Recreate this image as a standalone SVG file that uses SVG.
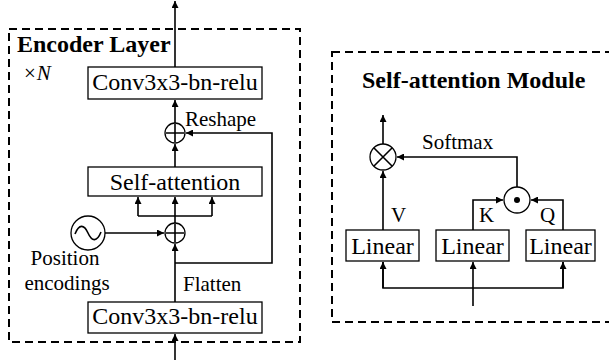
<svg xmlns="http://www.w3.org/2000/svg" width="609" height="360" viewBox="0 0 609 360">
<style>
text{font-family:"Liberation Serif","Times New Roman",serif;fill:#000}
.b{font-weight:bold;font-size:24px}
.box{fill:#fff;stroke:#000;stroke-width:1.3}
.dash{fill:none;stroke:#000;stroke-width:2;stroke-dasharray:8 5}
.ln{fill:none;stroke:#000;stroke-width:1.6}
.op{fill:#fff;stroke:#000;stroke-width:1.3}
.t24{font-size:24px}
.t21{font-size:21px}
</style>
<defs>
<marker id="ah" viewBox="0 0 10 10" refX="10" refY="5" markerWidth="7" markerHeight="7" markerUnits="userSpaceOnUse" orient="auto"><path d="M0,0 L10,5 L0,10 z" fill="#000"/></marker>
</defs>
<rect class="dash" x="9" y="29" width="291" height="313"/>
<rect class="dash" x="332" y="52" width="285" height="270"/>
<text class="b" x="17" y="52">Encoder Layer</text>
<text x="24" y="80" style="font-size:21px">×<tspan dx="1" font-style="italic">N</tspan></text>
<text class="b" x="362" y="88">Self-attention Module</text>
<g id="connectors">
<line class="ln" x1="175" y1="67" x2="175" y2="1" marker-end="url(#ah)"/>
<line class="ln" x1="175" y1="360" x2="175" y2="334" marker-end="url(#ah)"/>
<line class="ln" x1="175" y1="123" x2="175" y2="100" marker-end="url(#ah)"/>
<line class="ln" x1="175" y1="167" x2="175" y2="144" marker-end="url(#ah)"/>
<line class="ln" x1="175" y1="223" x2="175" y2="197" marker-end="url(#ah)"/>
<polyline class="ln" points="138,216 212,216"/>
<line class="ln" x1="138" y1="216" x2="138" y2="197" marker-end="url(#ah)"/>
<line class="ln" x1="212" y1="216" x2="212" y2="197" marker-end="url(#ah)"/>
<line class="ln" x1="175" y1="302" x2="175" y2="244" marker-end="url(#ah)"/>
<polyline class="ln" points="175,263 272,263 272,133 186,133" marker-end="url(#ah)"/>
<line class="ln" x1="105" y1="233" x2="164" y2="233" marker-end="url(#ah)"/>
<line class="ln" x1="383" y1="144" x2="383" y2="115" marker-end="url(#ah)"/>
<line class="ln" x1="383" y1="230" x2="383" y2="171" marker-end="url(#ah)"/>
<polyline class="ln" points="517,187 517,157 397,157" marker-end="url(#ah)"/>
<polyline class="ln" points="473,230 473,200 503,200" marker-end="url(#ah)"/>
<polyline class="ln" points="563,230 563,200 531,200" marker-end="url(#ah)"/>
<line class="ln" x1="473" y1="306" x2="473" y2="262" marker-end="url(#ah)"/>
<polyline class="ln" points="383,262 383,288 563,288 563,262"/>
<line class="ln" x1="383" y1="288" x2="383" y2="262" marker-end="url(#ah)"/>
<line class="ln" x1="563" y1="288" x2="563" y2="262" marker-end="url(#ah)"/>
</g>
<g id="conv-top"><rect class="box" x="88" y="67" width="174" height="32"/><text class="t24" x="175" y="90" text-anchor="middle">Conv3x3-bn-relu</text></g>
<g id="plus-top"><circle class="op" cx="175" cy="133" r="10"/><path class="ln" d="M166,133 H184 M175,124 V142" stroke-width="1"/></g>
<g id="self-attention"><rect class="box" x="88" y="167" width="174" height="29"/><text class="t24" x="175" y="190" text-anchor="middle">Self-attention</text></g>
<g id="plus-bottom"><circle class="op" cx="175" cy="233" r="10"/><path class="ln" d="M166,233 H184 M175,224 V242" stroke-width="1"/></g>
<g id="position"><circle class="op" cx="88" cy="233" r="17"/><path class="ln" d="M75,234 C79,224 84,224 88,233 C92,242 97,242 101,232" stroke-width="1.3"/>
<text class="t21" x="65" y="265" text-anchor="middle">Position</text><text class="t21" x="67" y="290" text-anchor="middle">encodings</text></g>
<g id="conv-bottom"><rect class="box" x="88" y="302" width="174" height="31"/><text class="t24" x="175" y="324" text-anchor="middle">Conv3x3-bn-relu</text></g>
<text class="t21" x="185" y="126">Reshape</text>
<text class="t21" x="183" y="291">Flatten</text>
<g id="otimes"><circle class="op" cx="383" cy="157" r="13"/><path class="ln" d="M374,148 L392,166 M392,148 L374,166" stroke-width="1"/></g>
<text class="t21" x="422" y="149">Softmax</text>
<g id="odot"><circle class="op" cx="517" cy="200" r="13"/><circle cx="517" cy="200" r="3" fill="#000"/></g>
<g id="linear-v"><rect class="box" x="346" y="230" width="73" height="31"/><text class="t24" x="382.5" y="254" text-anchor="middle">Linear</text></g>
<g id="linear-k"><rect class="box" x="436" y="230" width="73" height="31"/><text class="t24" x="472.5" y="254" text-anchor="middle">Linear</text></g>
<g id="linear-q"><rect class="box" x="526" y="230" width="69" height="31"/><text class="t24" x="560.5" y="254" text-anchor="middle">Linear</text></g>
<text class="t21" x="391" y="222">V</text>
<text class="t21" x="479" y="222">K</text>
<text class="t21" x="540" y="222">Q</text>
</svg>
